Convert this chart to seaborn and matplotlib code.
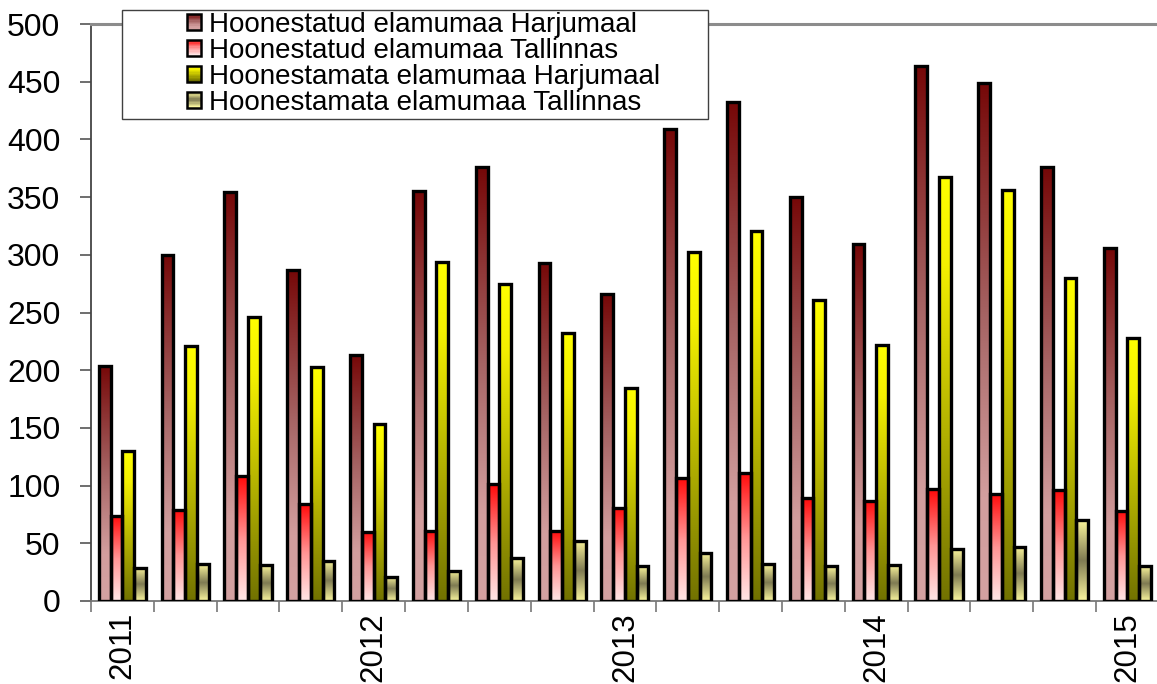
import numpy as np
import pandas as pd
import matplotlib
matplotlib.use("Agg")
import matplotlib.pyplot as plt
import seaborn as sns
from matplotlib.colors import LinearSegmentedColormap
from matplotlib.patches import Rectangle, Patch
from matplotlib.legend_handler import HandlerBase

# quarters 2011 Q1 .. 2015 Q1
quarters = ["2011 I", "2011 II", "2011 III", "2011 IV",
            "2012 I", "2012 II", "2012 III", "2012 IV",
            "2013 I", "2013 II", "2013 III", "2013 IV",
            "2014 I", "2014 II", "2014 III", "2014 IV",
            "2015 I"]
year_labels = ["2011", "2012", "2013", "2014", "2015"]
year_pos = [0, 4, 8, 12, 16]

series_names = ["Hoonestatud elamumaa Harjumaal",
                "Hoonestatud elamumaa Tallinnas",
                "Hoonestamata elamumaa Harjumaal",
                "Hoonestamata elamumaa Tallinnas"]

built_harju = [204, 300, 354, 287, 213, 355, 376, 293, 266, 409, 432, 350, 309, 464, 449, 376, 306]
built_tallinn = [74, 79, 108, 84, 60, 61, 101, 61, 81, 107, 111, 89, 87, 97, 93, 96, 78]
unbuilt_harju = [130, 221, 246, 203, 153, 294, 275, 232, 185, 302, 321, 261, 222, 367, 356, 280, 228]
unbuilt_tallinn = [29, 32, 31, 35, 21, 26, 37, 52, 30, 42, 32, 30, 31, 45, 47, 70, 30]

# gradient stops, top (0) -> bottom (1)
grad_stops = [
    [(0.0, "#760808"), (0.45, "#a66464"), (0.8, "#d29e9e"), (1.0, "#d4a2a2")],
    [(0.0, "#ff0a0a"), (0.5, "#ff9494"), (1.0, "#ffe6e6")],
    [(0.0, "#ffff00"), (0.2, "#f4f000"), (1.0, "#727200")],
    [(0.0, "#faf49a"), (0.5, "#7e7a52"), (1.0, "#faf69e")],
]
cmaps = [LinearSegmentedColormap.from_list("g%d" % i, s) for i, s in enumerate(grad_stops)]


def grad_img(cmap, n=128):
    c = cmap(np.linspace(0, 1, n))[:, :3]
    return c[:, None, :]


class GradHandler(HandlerBase):
    def __init__(self, cmap):
        super().__init__()
        self.cmap = cmap

    def create_artists(self, legend, orig_handle, xdescent, ydescent,
                       width, height, fontsize, trans):
        arts = []
        n = 12
        cols = self.cmap(np.linspace(0, 1, n))
        for i in range(n):
            y = -ydescent + height * (1 - (i + 1) / n)
            arts.append(Rectangle((-xdescent, y), width, height / n + 0.3,
                                  facecolor=cols[i], edgecolor="none", transform=trans))
        arts.append(Rectangle((-xdescent, -ydescent), width, height, facecolor="none",
                              edgecolor="black", linewidth=1.8, transform=trans))
        return arts


sns.set_style("ticks")
plt.rcParams["font.family"] = ["Liberation Sans", "DejaVu Sans"]

df = pd.DataFrame({
    "kvartal": quarters * 4,
    "seeria": np.repeat(series_names, len(quarters)),
    "vaartus": built_harju + built_tallinn + unbuilt_harju + unbuilt_tallinn,
})

W, H = 1157, 684
fig = plt.figure(figsize=(W / 100, H / 100), dpi=100)
ax = fig.add_axes([91 / W, 1 - 601 / H, 1 - 91 / W, (601 - 24) / H])

sns.barplot(data=df, x="kvartal", y="vaartus", hue="seeria", order=quarters,
            hue_order=series_names, width=0.75, legend=False, ax=ax,
            edgecolor="black", linewidth=2.4)

for k, cont in enumerate(ax.containers):
    img = grad_img(cmaps[k])
    for bar in cont:
        x0 = bar.get_x()
        w = bar.get_width()
        h = bar.get_height()
        ax.imshow(img, extent=(x0, x0 + w, 0, h), origin="upper",
                  aspect="auto", interpolation="bilinear", zorder=2)
        bar.set_facecolor("none")
        bar.set_zorder(3)

ax.set_aspect("auto")
ax.set_xlim(-0.5, 16.47)
ax.set_ylim(0, 500)
ax.set_yticks(np.arange(0, 501, 50))
ax.set_xticks(np.arange(-0.5, 16.0, 1.0))
ax.set_xticklabels([])
ax.set_xticks(year_pos, minor=True)
ax.set_xticklabels(year_labels, minor=True, rotation=90, fontsize=22.5)
ax.tick_params(axis="x", which="major", length=8, width=1.2, color="#777777")
ax.tick_params(axis="x", which="minor", length=0, pad=8, labelcolor="black")
ax.tick_params(axis="y", length=8, width=1.2, color="#555555", labelsize=23,
               pad=14, labelcolor="black")
ax.set_xlabel("")
ax.set_ylabel("")

ax.spines["right"].set_visible(False)
ax.spines["top"].set_color("#8c8c8c")
ax.spines["top"].set_linewidth(2.2)
ax.spines["left"].set_color("#444444")
ax.spines["left"].set_linewidth(1.3)
ax.spines["bottom"].set_color("#777777")
ax.spines["bottom"].set_linewidth(1.3)

# legend frame
frame = Rectangle((122 / W, 1 - 119 / H), (708 - 122) / W, 109 / H,
                  transform=fig.transFigure, facecolor="white", edgecolor="#404040",
                  linewidth=1.0, zorder=10, clip_on=False)
fig.add_artist(frame)

handles = [Patch() for _ in series_names]
hmap = {h: GradHandler(cmaps[i]) for i, h in enumerate(handles)}
leg = fig.legend(handles, series_names, handler_map=hmap, loc="upper left",
                 bbox_to_anchor=(187 / W, 1 - 12 / H), bbox_transform=fig.transFigure,
                 frameon=False, fontsize=20, borderpad=0, borderaxespad=0,
                 handlelength=0.5, handleheight=0.5, handletextpad=0.3,
                 labelspacing=0.0, labelcolor="black")
leg.set_zorder(11)

fig.savefig("out.png", dpi=100)
